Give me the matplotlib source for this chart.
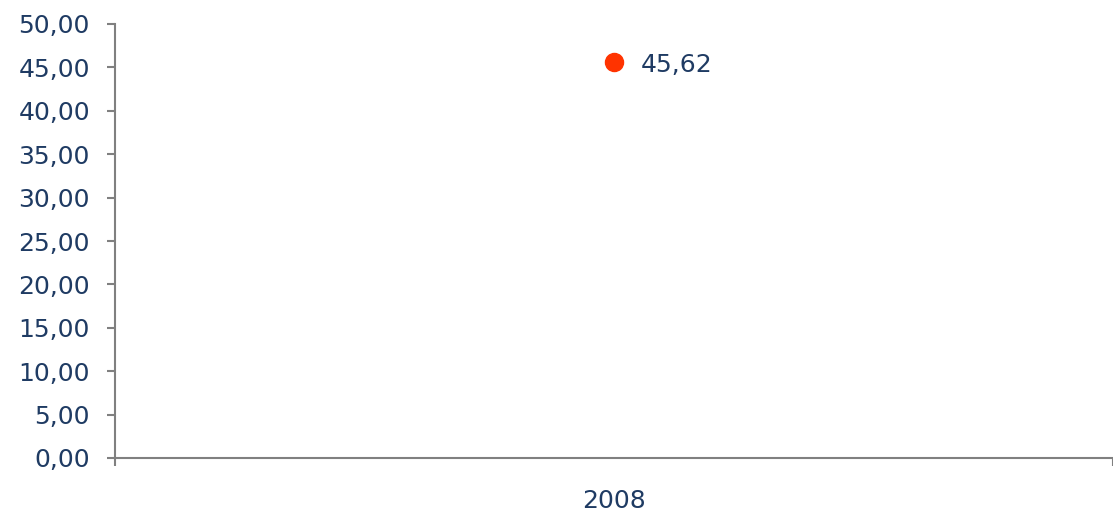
import matplotlib
matplotlib.use("Agg")
import matplotlib.pyplot as plt
from matplotlib.ticker import FuncFormatter, FixedLocator

categories = ["2008"]
values = [45.62]
value_labels = ["45,62"]

TEXT = "#1f3b63"
AXIS = "#808080"
DOT = "#ff3300"

fig = plt.figure(figsize=(11.13, 5.16), dpi=100)
ax = fig.add_axes([115 / 1113, 1 - 458 / 516, 1 - 115 / 1113, (458 - 24) / 516])

x = list(range(len(categories)))
ax.plot(x, values, "o", color=DOT, markersize=13, clip_on=False)
for xi, v, lab in zip(x, values, value_labels):
    ax.annotate(lab, (xi, v), xytext=(19, -2), textcoords="offset points",
                va="center", ha="left", fontsize=18, color=TEXT)

ax.set_xlim(-0.5, len(categories) - 0.5)
ax.set_ylim(0, 50)
ax.set_yticks([i * 5 for i in range(11)])
ax.yaxis.set_major_formatter(FuncFormatter(lambda v, p: f"{v:.2f}".replace(".", ",")))

ax.set_xticks(x)
ax.set_xticklabels(categories)
ax.xaxis.set_minor_locator(FixedLocator([i - 0.5 for i in range(len(categories) + 1)]))
ax.tick_params(axis="x", which="major", length=0, pad=22, labelsize=18, labelcolor=TEXT)
ax.tick_params(axis="x", which="minor", length=6, width=1.5, color=AXIS, direction="out")
ax.tick_params(axis="y", length=6, width=1.5, color=AXIS, pad=12, labelsize=18, labelcolor=TEXT)

for s in ["top", "right"]:
    ax.spines[s].set_visible(False)
for s in ["left", "bottom"]:
    ax.spines[s].set_color(AXIS)
    ax.spines[s].set_linewidth(1.5)

fig.savefig("out.png", dpi=100)
